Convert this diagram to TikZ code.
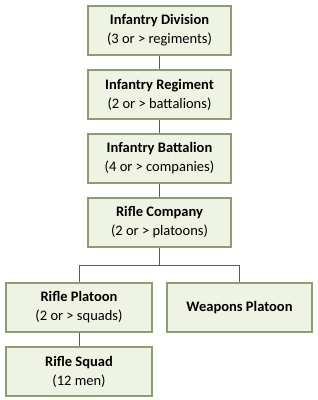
\documentclass[tikz,border=0pt]{standalone}
\usepackage{fontspec}
\setmainfont{Carlito}
\usetikzlibrary{positioning}
\definecolor{boxfill}{HTML}{EFF3E4}
\definecolor{boxline}{HTML}{8E9C72}
\definecolor{linkline}{HTML}{56692A}

\begin{document}
\begin{tikzpicture}[x=1pt, y=-1pt, font=\fontsize{14.5}{19}\selectfont,
    unitbox/.style={draw=boxline, fill=boxfill, line width=1.1pt, minimum height=49pt, align=center, inner sep=0pt},
    link/.style={draw=linkline, line width=1pt}]
        \useasboundingbox (0,0) rectangle (317,400);

        \node[unitbox, minimum width=143pt] (division) at (159.5,30.5) {\textbf{Infantry Division}\\(3 or > regiments)};
        \node[unitbox, minimum width=143pt] (regiment) at (159.5,94.5) {\textbf{Infantry Regiment}\\(2 or > battalions)};
        \node[unitbox, minimum width=143pt] (battalion) at (159.5,158.5) {\textbf{Infantry Battalion}\\(4 or > companies)};
        \node[unitbox, minimum width=143pt] (company) at (159.5,222.5) {\textbf{Rifle Company}\\(2 or > platoons)};
        \node[unitbox, minimum width=146pt] (rifleplt) at (79,307.5) {\textbf{Rifle Platoon}\\(2 or > squads)};
        \node[unitbox, minimum width=145pt] (weaponsplt) at (239.5,307.5) {\textbf{Weapons Platoon}};
        \node[unitbox, minimum width=146pt] (squad) at (79,371.5) {\textbf{Rifle Squad}\\(12 men)};

        \coordinate (bus) at (159.5,265);

        \draw[link] (division) -- (regiment);
        \draw[link] (regiment) -- (battalion);
        \draw[link] (battalion) -- (company);
        \draw[link] (company) -- (bus);
        \draw[link] (bus) -| (rifleplt);
        \draw[link] (bus) -| (weaponsplt);
        \draw[link] (rifleplt) -- (squad);
    \end{tikzpicture}
\end{document}
